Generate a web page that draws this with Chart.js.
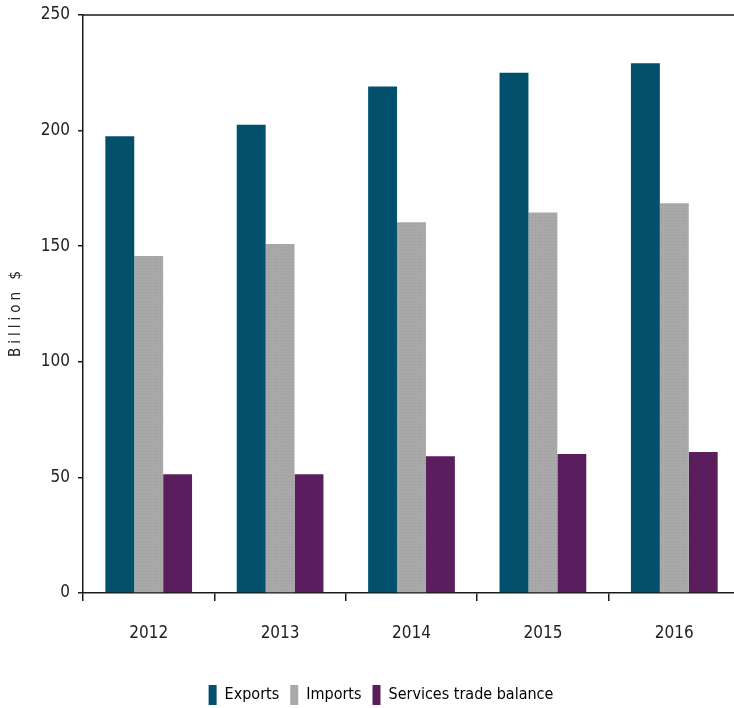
<!DOCTYPE html>
<html>
<head>
<meta charset="utf-8">
<script src="https://cdn.jsdelivr.net/npm/chart.js@4/dist/chart.umd.min.js"></script>
<style>
  html, body { margin: 0; padding: 0; background: #fff; overflow: hidden; }
  #wrap { width: 740px; height: 708px; }
</style>
</head>
<body>
<div id="wrap"><canvas id="tradeChart" width="740" height="708"></canvas></div>
<script>
const years = ["2012", "2013", "2014", "2015", "2016"];
const exportsVals = [197.6, 202.5, 219.1, 225.0, 229.1];
const importsVals = [145.8, 150.9, 160.4, 164.6, 168.6];
const balanceVals = [51.4, 51.4, 59.2, 60.1, 61.0];
const yTicks = [0, 50, 100, 150, 200, 250];

const narrow = "'Liberation Sans Narrow', 'DejaVu Sans Condensed', 'Arial Narrow', sans-serif";

// grey dotted fill like the original imports bars
function dottedGrey(){
  const c = document.createElement('canvas');
  c.width = 3; c.height = 3;
  const g = c.getContext('2d');
  g.fillStyle = '#a9a9a9';
  g.fillRect(0, 0, 3, 3);
  g.fillStyle = '#9c9c9c';
  g.fillRect(1, 1, 1, 1);
  return g.createPattern(c, 'repeat');
}

const frameAndTitle = {
  id: 'frameAndTitle',
  afterDraw(chart){
    const ctx = chart.ctx;
    const area = chart.chartArea;
    ctx.save();
    ctx.strokeStyle = '#1a1a1a';
    ctx.lineWidth = 1.5;
    ctx.beginPath();
    ctx.moveTo(area.left, area.top);
    ctx.lineTo(chart.width, area.top);
    ctx.stroke();

    ctx.translate(16, 312);
    ctx.rotate(-Math.PI / 2);
    ctx.fillStyle = '#222';
    ctx.font = "15px 'DejaVu Sans Condensed', 'DejaVu Sans', sans-serif";
    ctx.letterSpacing = '4px';
    ctx.textAlign = 'center';
    ctx.textBaseline = 'middle';
    ctx.fillText('Billion $', 0, 0);
    ctx.restore();
  }
};

new Chart(document.getElementById('tradeChart'), {
  type: 'bar',
  data: {
    labels: years,
    datasets: [
      { label: 'Exports', data: exportsVals, backgroundColor: '#02506c' },
      { label: 'Imports', data: importsVals, backgroundColor: dottedGrey() },
      { label: 'Services trade balance', data: balanceVals, backgroundColor: '#5a1e5e' }
    ]
  },
  options: {
    responsive: false,
    devicePixelRatio: 1,
    animation: false,
    datasets: {
      bar: { categoryPercentage: 0.66, barPercentage: 1.0, borderWidth: 0 }
    },
    layout: { padding: { top: 15, right: 0, left: 22, bottom: -7 } },
    plugins: {
      tooltip: { enabled: false },
      legend: {
        position: 'bottom',
        labels: {
          boxWidth: 8,
          boxHeight: 20,
          padding: 11,
          color: '#222',
          font: { family: narrow, size: 16 },
          generateLabels(chart){
            return chart.data.datasets.map((ds, i) => ({
              text: ds.label,
              fillStyle: ['#02506c', '#a9a9a9', '#5a1e5e'][i],
              strokeStyle: 'rgba(0,0,0,0)',
              lineWidth: 0,
              datasetIndex: i
            }));
          }
        }
      }
    },
    scales: {
      x: {
        afterFit(scale){ scale.height = 81; },
        grid: {
          offset: true,
          drawOnChartArea: false,
          tickLength: 8,
          color: '#1a1a1a',
          lineWidth: 1.5
        },
        border: { color: '#1a1a1a', width: 1.5 },
        ticks: {
          color: '#222',
          padding: 22,
          font: { family: narrow, size: 17 }
        }
      },
      y: {
        min: 0,
        max: 250,
        afterFit(scale){
          scale.width = 61;
          scale.paddingTop = 0;
          scale.paddingBottom = 0;
        },
        afterBuildTicks(scale){ scale.ticks = yTicks.map(v => ({ value: v })); },
        grid: {
          drawOnChartArea: false,
          tickLength: 5,
          color: '#1a1a1a',
          lineWidth: 1.5
        },
        border: { color: '#1a1a1a', width: 1.5 },
        ticks: {
          color: '#222',
          padding: 8,
          font: { family: narrow, size: 17 }
        }
      }
    }
  },
  plugins: [frameAndTitle]
});
</script>
</body>
</html>
